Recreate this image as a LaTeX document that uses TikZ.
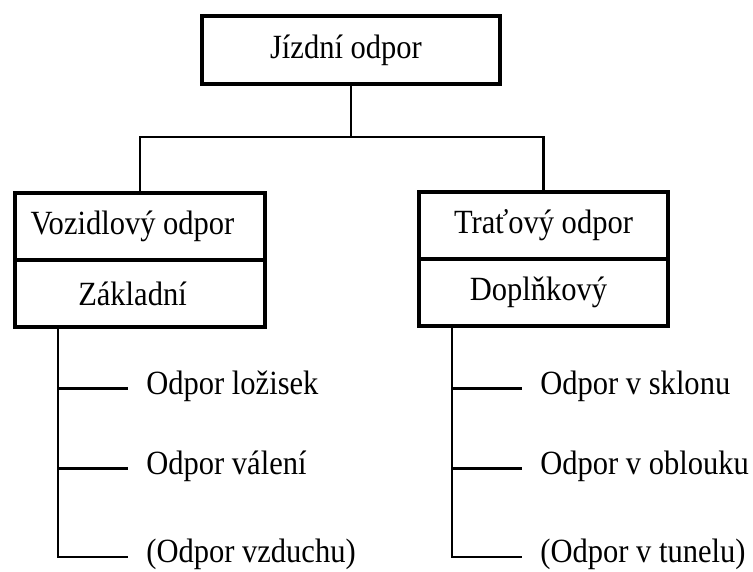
\documentclass[tikz,border=0pt]{standalone}
\usepackage{fontspec}
\setmainfont[FakeStretch=0.9]{Liberation Serif}
\usetikzlibrary{positioning}

\begin{document}
\begin{tikzpicture}[font=\fontsize{19.3}{23}\selectfont,
  box/.style={draw,line width=2.3pt,outer sep=0pt,inner sep=0pt,minimum width=5cm,minimum height=1.34cm},
  conn/.style={line width=1.2pt},
  leaf/.style={anchor=west,inner xsep=0.36cm,inner ysep=0pt,text height=0.64em,text depth=0pt}]
\useasboundingbox (0,0) rectangle (15.06,-11.44);
\node[box,minimum width=5.96cm,minimum height=1.36cm] (J) at (7.02,-1.0) {Jízdní odpor\hspace*{0.2cm}};
\node[box] (V) at (2.8,-4.53) {Vozidlový odpor\hspace*{0.3cm}};
\node[box,below=0pt of V] (Z) {Základní\hspace*{0.3cm}};
\node[box,minimum width=4.98cm] (T) at (10.87,-4.51) {Traťový odpor};
\node[box,minimum width=4.98cm,below=0pt of T] (D) {Doplňkový\hspace*{0.2cm}};
\coordinate (K) at (7.02,-2.74);
\coordinate (LT) at ([xshift=0.86cm]Z.south west);
\coordinate (RT) at ([xshift=0.66cm]D.south west);
\node[leaf] (L1) at (2.56,-7.77) {Odpor ložisek};
\node[leaf] (L2) at (2.56,-9.37) {Odpor válení};
\node[leaf] (L3) at (2.56,-11.14) {(Odpor vzduchu)};
\node[leaf] (R1) at (10.44,-7.77) {Odpor v sklonu};
\node[leaf] (R2) at (10.44,-9.37) {Odpor v oblouku};
\node[leaf] (R3) at (10.44,-11.14) {(Odpor v tunelu)};
\draw[conn] (J.south) -- (K);
\draw[conn] (K) -| (V.north);
\draw[conn] (K) -| (T.north);
\draw[conn] (LT) |- (L3.west);
\draw[conn] (L1.west -| LT) -- (L1.west);
\draw[conn] (L2.west -| LT) -- (L2.west);
\draw[conn] (RT) |- (R3.west);
\draw[conn] (R1.west -| RT) -- (R1.west);
\draw[conn] (R2.west -| RT) -- (R2.west);
\end{tikzpicture}
\end{document}
